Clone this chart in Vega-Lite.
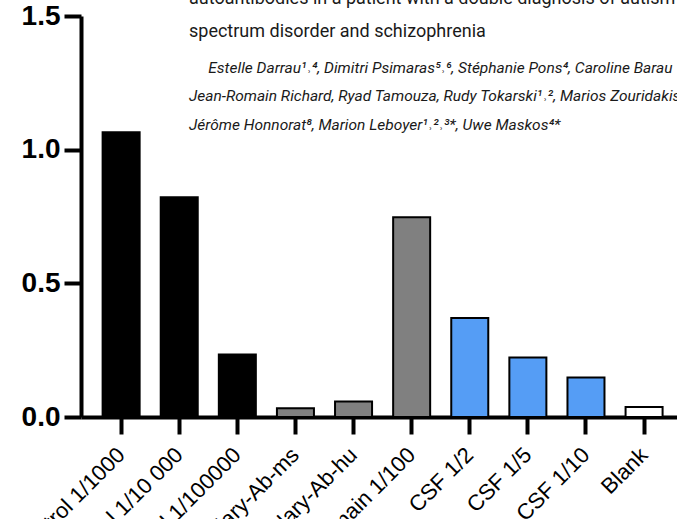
{
  "$schema": "https://vega.github.io/schema/vega-lite/v6.json",
  "width": 596,
  "height": 401,
  "autosize": {"type": "none"},
  "padding": {"left": 81, "top": 16, "right": 0, "bottom": 102},
  "background": "white",
  "title": {
    "text": ["autoantibodies in a patient with a double diagnosis of autism", "spectrum disorder and schizophrenia"],
    "subtitle": ["\u200b\u2003\u2005Estelle Darrau¹˒⁴, Dimitri Psimaras⁵˒⁶, Stéphanie Pons⁴, Caroline Barau", "Jean-Romain Richard, Ryad Tamouza, Rudy Tokarski¹˒², Marios Zouridakis", "Jérôme Honnorat⁸, Marion Leboyer¹˒²˒³*, Uwe Maskos⁴*"],
    "anchor": "start",
    "frame": "group",
    "orient": "top",
    "dx": 108,
    "offset": -131,
    "font": "Roboto",
    "fontSize": 18,
    "fontWeight": "normal",
    "color": "#1a1a1a",
    "lineHeight": 33,
    "subtitleFont": "Roboto",
    "subtitleFontSize": 15.5,
    "subtitleFontStyle": "italic",
    "subtitleColor": "#1a1a1a",
    "subtitleLineHeight": 28.5,
    "subtitlePadding": 20,
    "limit": 1000
  },
  "data": {
    "values": [
      {"sample": "Positive control 1/1000", "value": 1.065, "group": "control"},
      {"sample": "Positive control 1/10 000", "value": 0.822, "group": "control"},
      {"sample": "Positive control 1/100000", "value": 0.234, "group": "control"},
      {"sample": "Secondary-Ab-ms", "value": 0.033, "group": "gray"},
      {"sample": "Secondary-Ab-hu", "value": 0.058, "group": "gray"},
      {"sample": "Anti-domain 1/100", "value": 0.747, "group": "gray"},
      {"sample": "CSF 1/2", "value": 0.370, "group": "csf"},
      {"sample": "CSF 1/5", "value": 0.223, "group": "csf"},
      {"sample": "CSF 1/10", "value": 0.148, "group": "csf"},
      {"sample": "Blank", "value": 0.037, "group": "blank"}
    ]
  },
  "mark": {"type": "bar", "stroke": "black", "strokeWidth": 2},
  "encoding": {
    "x": {
      "field": "sample",
      "type": "nominal",
      "sort": null,
      "scale": {"paddingInner": 0.363, "paddingOuter": 0.31, "align": 0.6},
      "axis": {
        "title": null,
        "labelAngle": -45,
        "labelAlign": "right",
        "labelBaseline": "middle",
        "labelFont": "Liberation Sans",
        "labelFontSize": 22,
        "labelColor": "black",
        "labelPadding": 17,
        "labelLimit": 500,
        "domainColor": "black",
        "domainWidth": 4,
        "tickColor": "black",
        "tickWidth": 4,
        "tickSize": 17,
        "grid": false
      }
    },
    "y": {
      "field": "value",
      "type": "quantitative",
      "scale": {"domain": [0, 1.5], "nice": false},
      "axis": {
        "title": null,
        "values": [0, 0.5, 1, 1.5],
        "format": ".1f",
        "labelFont": "Liberation Sans",
        "labelFontSize": 28,
        "labelFontWeight": "bold",
        "labelColor": "black",
        "labelPadding": 4,
        "domainColor": "black",
        "domainWidth": 4,
        "tickColor": "black",
        "tickWidth": 4,
        "tickSize": 17,
        "grid": false
      }
    },
    "fill": {
      "field": "group",
      "type": "nominal",
      "scale": {"domain": ["control", "gray", "csf", "blank"], "range": ["#000000", "#808080", "#559DF5", "#ffffff"]},
      "legend": null
    }
  },
  "config": {"view": {"stroke": null}}
}
